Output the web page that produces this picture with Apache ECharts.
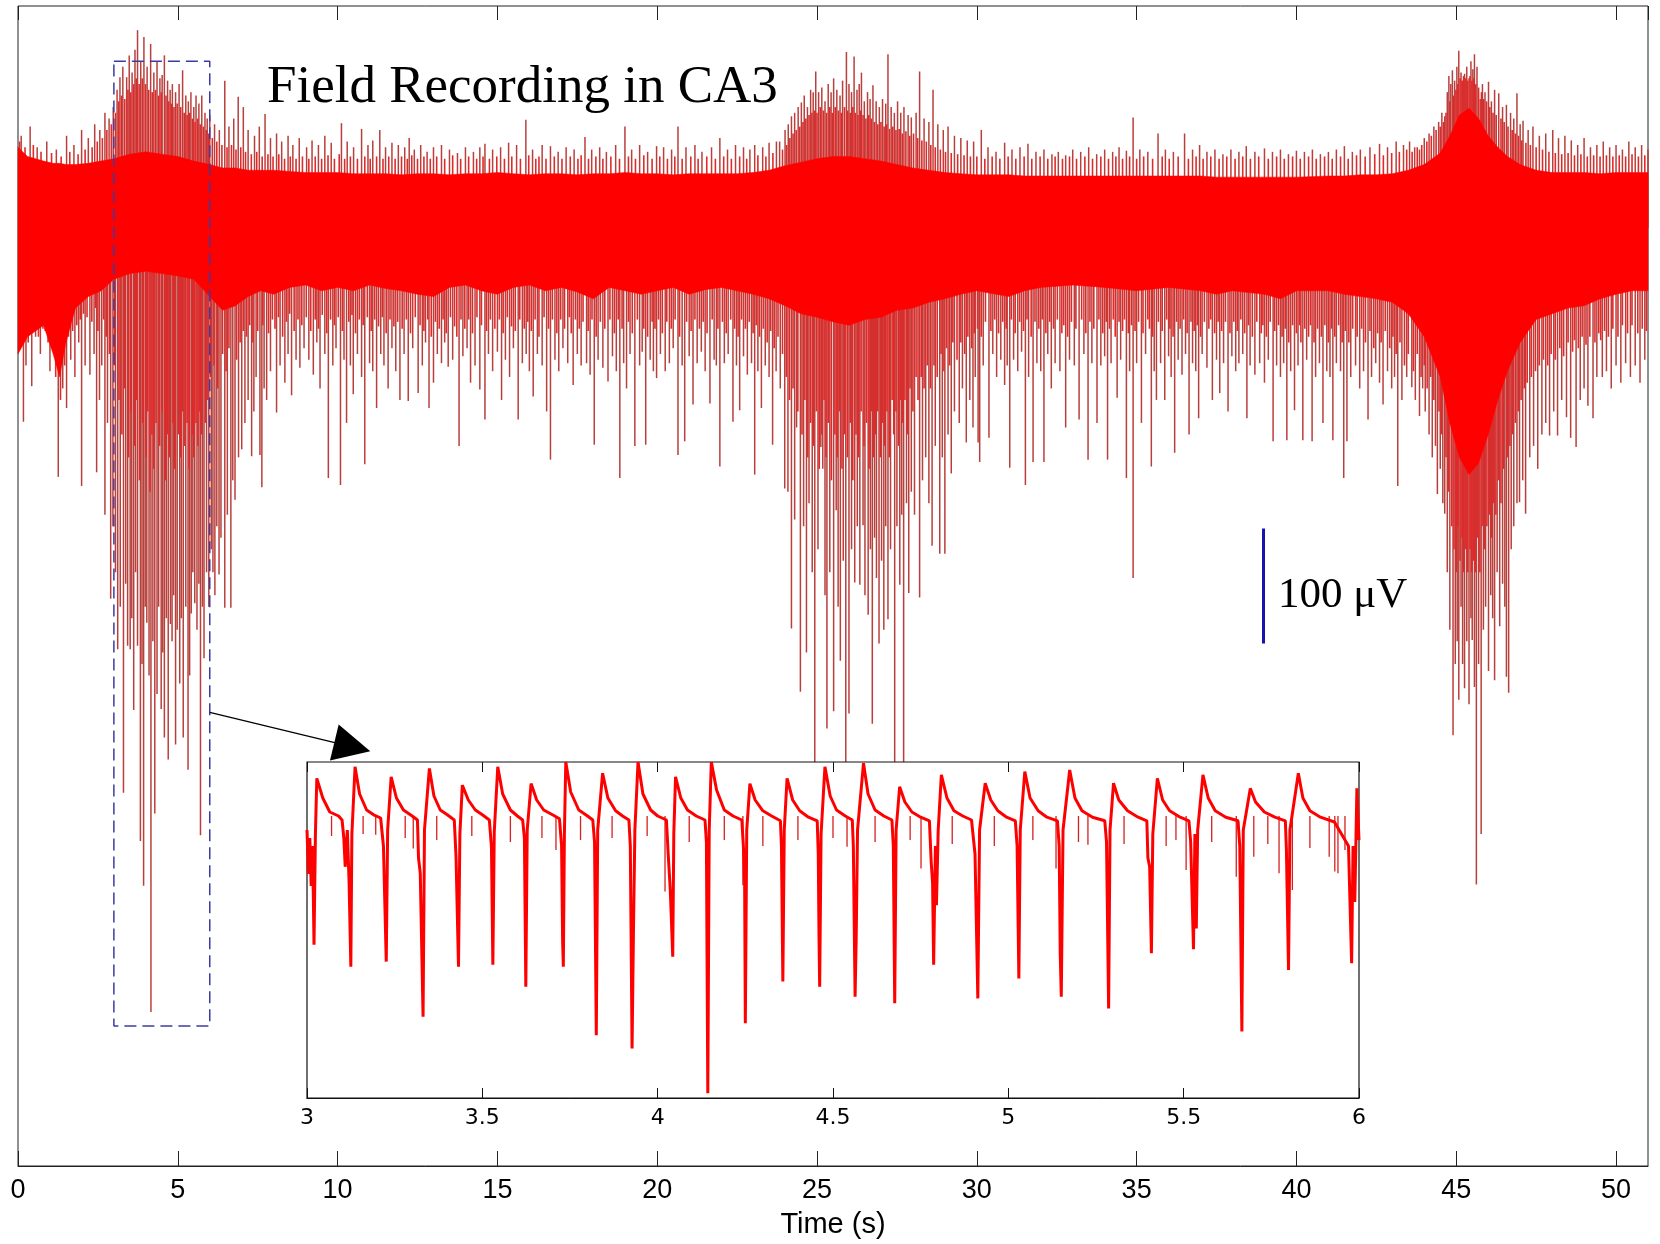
<!DOCTYPE html>
<html>
<head>
<meta charset="utf-8">
<title>Field Recording in CA3</title>
<script src="https://cdn.jsdelivr.net/npm/echarts@6/dist/echarts.min.js"></script>
<style>
  html, body { margin: 0; padding: 0; background: #fff; }
  #chart { width: 1660px; height: 1244px; }
</style>
</head>
<body>
<div id="chart"></div>
<script>
// dense band of the trace: [time s, top µV, bottom µV]
const band = [
  [0,70,-110],[0.3,62,-95],[0.8,58,-85],[1.1,56,-110],[1.3,56,-130],[1.5,55,-100],[1.8,55,-70],[2.2,56,-60],
  [2.6,58,-55],[3.0,60,-45],[3.5,64,-40],[4.0,66,-38],[4.5,64,-40],[5.0,62,-42],[5.5,58,-45],[6.0,55,-60],
  [6.4,52,-72],[6.8,52,-68],[7.2,50,-60],[7.6,50,-55],[8.0,50,-58],[8.5,49,-52],[9.0,48,-50],[9.5,48,-55],
  [10.0,48,-52],[10.5,47,-55],[11.0,47,-50],[11.5,47,-53],[12.0,46,-55],[12.5,47,-58],[13.0,47,-60],[13.5,46,-52],
  [14.0,47,-50],[14.5,47,-55],[15.0,48,-58],[15.5,47,-52],[16.0,46,-50],[16.5,47,-55],[17.0,47,-52],[17.5,46,-56],
  [18.0,47,-62],[18.5,47,-52],[19.0,48,-55],[19.5,47,-58],[20.0,47,-55],[20.5,46,-52],[21.0,47,-58],[21.5,47,-54],
  [22.0,47,-52],[22.5,47,-55],[23.0,48,-58],[23.5,50,-62],[24.0,54,-68],[24.5,57,-75],[25.0,60,-78],[25.5,62,-82],
  [26.0,62,-85],[26.5,60,-80],[27.0,58,-78],[27.5,55,-72],[28.0,52,-70],[28.5,50,-65],[29.0,48,-62],[29.5,47,-58],
  [30.0,46,-55],[31.0,46,-60],[31.5,45,-55],[32.0,45,-52],[33.0,45,-50],[34.0,45,-52],[35.0,45,-55],[36.0,45,-52],
  [37.0,45,-55],[37.5,44,-58],[38.0,44,-55],[39.0,44,-58],[39.5,44,-62],[40.0,44,-55],[41.0,45,-55],[41.5,45,-58],
  [42.0,46,-60],[42.5,46,-62],[43.0,47,-65],[43.5,50,-75],[44.0,55,-95],[44.5,65,-130],[44.8,80,-170],[45.1,98,-200],
  [45.4,104,-215],[45.7,95,-205],[46.0,80,-180],[46.3,70,-150],[46.6,62,-125],[47.0,55,-100],[47.5,50,-80],[48.0,48,-75],
  [48.5,48,-70],[49.0,48,-68],[49.5,47,-62],[50.0,48,-58],[50.5,48,-55],[51.0,48,-55]
];

// long downward spikes [time s, tip µV]
const downSpikes = [
  [0.06,-98],[0.17,-169],[0.25,-120],[0.43,-138],[0.55,-95],[0.7,-110],[0.85,-90],[1.0,-125],[1.1,-105],[1.26,-217],
  [1.4,-140],[1.52,-157],[1.65,-115],[1.78,-130],[1.9,-100],[1.99,-225],[2.1,-120],[2.25,-128],[2.38,-110],[2.46,-213],
  [2.55,-150],[2.62,-120],[2.72,-250],[2.8,-170],[2.9,-323],[2.97,-260],
  [3.05,-300],[3.12,-367],[3.2,-330],[3.3,-492],[3.37,-310],[3.43,-364],[3.51,-367],[3.56,-340],[3.62,-420],[3.68,-300],
  [3.74,-364],[3.83,-534],[3.88,-380],[3.93,-573],[3.98,-330],[4.03,-344],[4.1,-390],[4.16,-683],[4.22,-360],[4.28,-510],
  [4.35,-406],[4.4,-330],[4.48,-419],[4.53,-370],[4.58,-444],[4.64,-340],[4.7,-463],[4.77,-345],[4.82,-360],[4.87,-320],
  [4.93,-450],[4.98,-350],[5.06,-397],[5.11,-340],[5.17,-444],[5.25,-330],[5.32,-472],[5.37,-390],[5.42,-336],[5.47,-300],
  [5.53,-327],[5.6,-350],[5.66,-310],[5.71,-529],[5.77,-330],[5.82,-375],[5.9,-300],[5.97,-330],
  [6.05,-280],[6.1,-300],[6.16,-320],[6.22,-260],[6.29,-302],[6.35,-270],[6.47,-331],[6.55,-250],[6.66,-331],[6.72,-220],
  [6.79,-237],[6.9,-200],[7.0,-193],[7.1,-170],[7.2,-150],[7.31,-199],[7.38,-160],[7.45,-130],[7.57,-198],[7.63,-226],
  [7.7,-140],[7.78,-150],[7.9,-125],[8.09,-161],[8.2,-120],[8.35,-135],[8.45,-110],[8.56,-146],[8.7,-115],[8.82,-122],
  [8.95,-105],[9.1,-115],[9.24,-128],[9.35,-100],[9.45,-140],[9.6,-110],[9.71,-218],[9.85,-120],[9.95,-105],[10.09,-224],
  [10.2,-115],[10.28,-170],[10.4,-120],[10.49,-145],[10.62,-110],[10.75,-130],[10.85,-206],[11.0,-118],[11.1,-125],[11.22,-157],
  [11.35,-110],[11.45,-120],[11.58,-140],[11.7,-105],[11.82,-125],[11.95,-150],
  [12.08,-110],[12.21,-151],[12.35,-105],[12.52,-144],[12.65,-120],[12.75,-100],[12.86,-157],[13.0,-135],[13.12,-110],[13.25,-118],
  [13.35,-100],[13.46,-121],[13.6,-115],[13.8,-190],[13.92,-112],[14.05,-105],[14.16,-135],[14.3,-120],[14.45,-141],[14.61,-167],
  [14.72,-110],[14.85,-125],[15.0,-108],[15.13,-150],[15.25,-115],[15.38,-130],[15.5,-105],[15.65,-167],[15.78,-118],[15.9,-110],
  [16.0,-125],[16.12,-147],[16.25,-110],[16.4,-120],[16.54,-160],[16.66,-202],[16.8,-115],[16.92,-125],[17.05,-105],[17.2,-118],
  [17.37,-137],[17.5,-110],[17.62,-120],[17.79,-118],[17.9,-128],[18.03,-189],[18.15,-115],[18.3,-122],[18.46,-134],[18.6,-112],
  [18.72,-125],[18.83,-218],[18.95,-118],[19.04,-140],[19.15,-110],[19.3,-190],[19.45,-120],[19.53,-108],[19.64,-189],[19.78,-115],
  [19.88,-125],[19.98,-131],[20.1,-110],[20.25,-125],[20.38,-118],[20.5,-105],[20.65,-198],[20.78,-120],[20.86,-186],[21.0,-112],
  [21.12,-154],[21.25,-118],[21.38,-108],[21.5,-125],[21.65,-153],[21.78,-115],[21.85,-120],[21.96,-208],[22.1,-118],[22.22,-110],
  [22.37,-169],[22.48,-120],[22.58,-159],[22.7,-112],[22.82,-128],[22.95,-118],[23.05,-215],[23.15,-125],[23.26,-157],[23.38,-120],
  [23.5,-130],[23.61,-189],[23.72,-125],[23.85,-140],[23.99,-227],
  [24.09,-230],[24.2,-349],[24.3,-254],[24.36,-174],[24.48,-404],[24.58,-260],[24.67,-370],[24.75,-240],[24.85,-300],[24.93,-500],
  [25.03,-280],[25.12,-191],[25.18,-210],[25.25,-320],[25.31,-436],[25.4,-300],[25.52,-421],[25.6,-246],[25.66,-330],[25.73,-377],
  [25.82,-290],[25.9,-500],[26.0,-423],[26.08,-280],[26.18,-309],[26.26,-260],[26.34,-311],[26.44,-259],[26.5,-320],[26.6,-337],
  [26.67,-280],[26.73,-432],[26.8,-270],[26.86,-305],[26.94,-362],[27.02,-290],[27.09,-350],[27.15,-260],[27.22,-341],[27.3,-280],
  [27.43,-500],[27.5,-260],[27.59,-311],[27.65,-250],[27.71,-500],[27.8,-240],[27.87,-318],[27.95,-230],[28.05,-250],[28.21,-322],
  [28.3,-220],[28.4,-200],[28.5,-240],[28.6,-277],[28.7,-190],[28.84,-284],[28.92,-200],[29.0,-284],[29.1,-180],[29.2,-214],
  [29.3,-160],[29.45,-170],[29.55,-140],[29.67,-187],[29.78,-150],[29.88,-174],[29.95,-130],
  [30.04,-187],[30.09,-204],[30.2,-120],[30.38,-183],[30.5,-110],[30.62,-130],[30.75,-115],[30.87,-137],[30.95,-120],[31.03,-209],
  [31.15,-115],[31.28,-125],[31.4,-108],[31.52,-224],[31.62,-130],[31.76,-204],[31.88,-118],[32.0,-125],[32.1,-204],[32.22,-110],
  [32.33,-140],[32.45,-118],[32.6,-125],[32.78,-174],[32.9,-115],[33.05,-120],[33.2,-167],[33.35,-110],[33.48,-202],[33.6,-118],
  [33.76,-170],[33.88,-120],[34.0,-112],[34.09,-202],[34.2,-118],[34.39,-148],[34.5,-115],[34.68,-218],[34.78,-125],[34.89,-305],
  [35.0,-118],[35.15,-170],[35.28,-110],[35.46,-208],[35.55,-125],[35.62,-150],[35.75,-118],[35.88,-150],[36.0,-112],[36.08,-130],
  [36.19,-196],[36.3,-115],[36.42,-128],[36.53,-110],[36.64,-180],[36.75,-118],[36.85,-125],[36.94,-166],[37.05,-110],[37.2,-122],
  [37.37,-150],[37.5,-115],[37.6,-144],[37.72,-118],[37.86,-160],[37.98,-112],[38.1,-125],[38.2,-118],[38.32,-110],[38.45,-166],
  [38.55,-120],[38.7,-128],[38.85,-118],[39.0,-135],[39.12,-115],[39.27,-186],[39.38,-120],[39.5,-130],[39.6,-118],[39.7,-185],
  [39.82,-125],[39.94,-159],[40.05,-120],[40.2,-185],[40.32,-115],[40.49,-186],[40.6,-130],[40.72,-118],[40.83,-170],[40.95,-125],
  [41.05,-130],[41.14,-185],[41.25,-118],[41.38,-125],[41.48,-218],[41.58,-186],[41.7,-130],[41.85,-120],[41.98,-140],[42.1,-125],
  [42.24,-167],[42.35,-130],[42.48,-118],[42.6,-135],[42.71,-154],[42.85,-125],[42.98,-140],[43.07,-130],[43.17,-225],
  [43.3,-150],[43.45,-130],[43.61,-139],[43.72,-150],[43.85,-164],[43.95,-140],[44.03,-160],[44.15,-180],[44.25,-200],[44.35,-190],
  [44.41,-232],[44.5,-210],[44.58,-240],[44.64,-249],[44.72,-300],[44.8,-350],[44.9,-442],[44.97,-380],[45.03,-360],[45.08,-411],
  [45.15,-330],[45.2,-380],[45.26,-401],[45.33,-360],[45.4,-415],[45.46,-340],[45.5,-359],[45.57,-400],[45.63,-572],[45.7,-380],
  [45.78,-528],[45.85,-350],[45.92,-330],[46.01,-386],[46.08,-320],[46.14,-340],[46.2,-394],[46.28,-300],[46.36,-347],[46.45,-310],
  [46.52,-330],[46.57,-391],[46.64,-405],[46.72,-280],[46.8,-260],[46.9,-240],[46.98,-239],[47.08,-220],[47.17,-249],[47.3,-200],
  [47.42,-190],[47.55,-210],[47.68,-180],[47.8,-170],[47.92,-181],[48.05,-160],[48.17,-181],[48.3,-150],[48.45,-165],[48.58,-183],
  [48.75,-191],[48.88,-150],[49.0,-140],[49.12,-155],[49.28,-166],[49.4,-130],[49.57,-130],[49.7,-125],[49.85,-140],[50.0,-120],
  [50.15,-135],[50.3,-118],[50.45,-130],[50.6,-120],[50.75,-135],[50.9,-115]
];

// long upward spikes [time s, tip µV]
const upSpikes = [
  [0.1,80],[0.38,88],[0.6,70],[0.9,75],[1.2,68],[1.52,80],[1.75,72],[1.99,85],[2.2,78],[2.4,90],[2.56,85],[2.72,100],[2.85,95],[2.98,105],
  [3.1,120],[3.19,131],[3.28,140],[3.4,131],[3.48,150],[3.57,135],[3.66,155],[3.74,172],[3.84,145],[3.94,166],[4.04,140],[4.15,160],
  [4.25,135],[4.35,145],[4.44,130],[4.51,133],[4.58,150],[4.68,128],[4.76,120],[4.83,125],[4.93,118],[5.04,125],[5.15,137],[5.25,115],
  [5.33,110],[5.41,118],[5.5,105],[5.57,115],[5.66,108],[5.75,115],[5.85,100],[5.92,95],[6.0,98],
  [6.15,90],[6.3,85],[6.47,128],[6.6,88],[6.75,95],[6.89,114],[7.05,105],[7.2,85],[7.4,80],[7.55,88],[7.73,99],[7.9,78],[8.09,82],
  [8.25,75],[8.45,80],[8.6,72],[8.8,78],[9.03,70],[9.2,76],[9.4,72],[9.6,80],[9.8,74],[10.12,91],[10.3,75],[10.5,70],[10.75,86],
  [10.95,72],[11.1,76],[11.32,85],[11.5,70],[11.7,74],[11.9,72],
  [12.1,70],[12.24,78],[12.4,68],[12.6,72],[12.8,66],[13.0,70],[13.25,72],[13.5,68],[13.75,65],[14.0,70],[14.25,66],[14.45,70],
  [14.61,73],[14.85,68],[15.1,70],[15.35,74],[15.6,72],[15.89,94],[16.1,68],[16.4,72],[16.66,71],[16.9,66],[17.15,70],[17.4,68],
  [17.74,79],[17.95,68],[18.2,70],[18.41,66],[18.7,72],[18.99,88],[19.2,68],[19.45,72],[19.7,66],[19.98,71],[20.2,70],[20.45,68],
  [20.65,88],[20.9,70],[21.18,72],[21.4,66],[21.7,70],[21.96,78],[22.2,68],[22.45,72],[22.7,70],[22.9,68],[23.05,72],[23.3,70],
  [23.5,74],[23.73,75],[23.83,75],[24.0,85],
  [24.1,90],[24.2,97],[24.3,100],[24.41,105],[24.51,109],[24.6,115],[24.7,105],[24.8,120],[24.88,118],[24.96,136],[25.05,118],
  [25.15,122],[25.25,110],[25.35,125],[25.44,118],[25.52,130],[25.62,120],[25.72,115],[25.8,128],[25.92,153],[26.0,125],[26.08,118],
  [26.16,149],[26.25,120],[26.32,125],[26.39,135],[26.48,110],[26.58,118],[26.66,112],[26.75,124],[26.85,110],[26.95,105],[27.05,112],
  [27.15,108],[27.22,151],[27.32,105],[27.42,100],[27.52,110],[27.62,100],[27.72,105],[27.85,98],[27.95,96],[28.1,100],[28.21,136],
  [28.35,95],[28.5,92],[28.63,120],[28.78,90],[28.95,85],[29.1,88],[29.3,80],[29.5,78],[29.7,76],[29.9,75],
  [30.14,85],[30.35,70],[30.6,66],[30.87,74],[31.1,68],[31.35,70],[31.6,73],[31.85,66],[32.1,68],[32.35,64],[32.55,66],[32.78,63],
  [33.0,68],[33.25,66],[33.5,70],[33.75,64],[34.0,68],[34.25,66],[34.45,70],[34.68,67],[34.89,96],[35.1,68],[35.35,66],[35.67,82],
  [35.9,68],[36.15,66],[36.5,82],[36.75,68],[36.97,72],[37.2,66],[37.45,68],[37.7,64],[37.95,68],[38.2,66],[38.43,71],[38.7,66],
  [39.0,69],[39.25,66],[39.5,68],[39.75,64],[40.0,67],[40.25,66],[40.5,68],[40.75,64],[41.0,66],[41.25,68],[41.5,71],[41.75,66],
  [42.0,68],[42.3,70],[42.6,73],[42.85,70],[43.12,75],[43.35,72],
  [43.54,75],[43.7,70],[43.85,68],[44.0,78],[44.15,82],[44.3,88],[44.45,92],[44.55,100],[44.64,97],[44.72,118],[44.77,132],
  [44.83,125],[44.88,137],[44.95,128],[45.02,140],[45.08,154],[45.15,135],[45.2,128],[45.26,134],[45.33,140],[45.4,130],[45.46,145],
  [45.52,138],[45.57,151],[45.65,140],[45.75,112],[45.82,125],[45.9,118],[46.01,127],[46.1,110],[46.2,120],[46.33,117],[46.45,105],
  [46.57,107],[46.7,100],[46.8,95],[46.9,117],[47.0,90],[47.09,93],[47.25,85],[47.4,88],[47.6,80],[47.8,82],[48.02,85],[48.2,78],
  [48.4,80],[48.6,76],[48.8,72],[49.0,78],[49.2,70],[49.4,72],[49.6,75],[49.8,70],[50.0,72],[50.2,68],[50.4,75],[50.6,70],
  [50.8,72],[51.0,68]
];

// short spikes making the ragged lower fringe of the band [time s, tip µV]
const fringeDown = [
  [0.12,-90],[0.32,-100],[0.5,-85],[0.64,-95],[0.78,-88],[0.94,-100],[1.05,-92],[1.18,-130],[1.33,-150],[1.46,-120],
  [1.58,-95],[1.71,-90],[1.84,-85],[1.95,-80],[2.05,-75],[2.16,-78],[2.31,-82],[2.43,-70],[2.5,-90],[2.68,-80],
  [2.76,-95],[2.86,-110],[3.02,-120],[3.16,-150],[3.25,-180],[3.34,-140],[3.46,-200],[3.53,-160],[3.65,-190],[3.71,-150],
  [3.8,-220],[3.9,-170],[4.0,-200],[4.06,-160],[4.13,-230],[4.19,-180],[4.25,-210],[4.32,-170],[4.43,-190],[4.51,-160],
  [4.61,-220],[4.67,-180],[4.74,-200],[4.85,-170],[4.9,-210],[5.02,-180],[5.09,-200],[5.14,-160],[5.22,-190],[5.29,-170],
  [5.35,-210],[5.45,-180],[5.5,-200],[5.57,-170],[5.63,-190],[5.69,-160],[5.74,-180],[5.86,-170],[5.94,-150],
  [6.02,-130],[6.13,-120],[6.25,-140],[6.4,-110],[6.51,-125],[6.6,-105],[6.84,-115],[6.95,-100],[7.05,-90],[7.15,-95],
  [7.25,-85],[7.35,-100],[7.5,-90],[7.66,-85],[7.84,-92],[7.96,-80],[8.04,-88],[8.15,-78],[8.28,-95],[8.4,-82],
  [8.5,-75],[8.64,-90],[8.76,-80],[8.88,-85],[9.02,-78],[9.16,-90],[9.3,-80],[9.4,-88],[9.52,-76],[9.66,-92],
  [9.78,-80],[9.9,-85],[10.02,-78],[10.15,-90],[10.35,-82],[10.45,-76],[10.56,-92],[10.68,-80],[10.8,-85],[10.93,-78],
  [11.05,-90],[11.16,-80],[11.28,-86],[11.4,-78],[11.52,-92],[11.64,-80],[11.76,-86],[11.88,-82],
  [12.02,-88],[12.15,-80],[12.28,-92],[12.43,-78],[12.58,-85],[12.7,-90],[12.82,-80],[12.93,-95],[13.06,-82],[13.18,-88],
  [13.3,-80],[13.4,-92],[13.53,-78],[13.66,-86],[13.73,-95],[13.86,-80],[13.98,-88],[14.1,-80],[14.22,-92],[14.36,-78],
  [14.5,-85],[14.66,-90],[14.78,-80],[14.92,-88],[15.06,-80],[15.18,-92],[15.31,-78],[15.44,-86],[15.56,-90],[15.7,-80],
  [15.84,-88],[15.95,-82],[16.06,-90],[16.18,-80],[16.3,-95],[16.46,-78],[16.6,-88],[16.72,-80],[16.86,-92],[16.98,-80],
  [17.1,-88],[17.25,-78],[17.31,-92],[17.44,-80],[17.56,-88],[17.68,-82],[17.84,-90],[17.96,-80],[18.09,-95],[18.22,-82],
  [18.36,-88],[18.52,-80],[18.66,-92],[18.78,-80],[18.9,-88],[19.1,-82],[19.22,-92],[19.38,-80],[19.58,-88],[19.7,-95],
  [19.84,-82],[19.93,-88],[20.04,-80],[20.16,-92],[20.3,-82],[20.44,-88],[20.56,-80],[20.7,-95],[20.92,-82],[21.06,-90],
  [21.18,-80],[21.32,-88],[21.44,-82],[21.56,-92],[21.72,-80],[21.9,-88],[22.04,-82],[22.16,-92],[22.3,-80],[22.42,-88],
  [22.53,-95],[22.64,-80],[22.76,-88],[22.88,-82],[23.0,-92],[23.1,-85],[23.2,-95],[23.32,-88],[23.44,-100],[23.55,-90],
  [23.66,-105],[23.78,-95],[23.92,-110],
  [24.04,-130],[24.14,-150],[24.25,-140],[24.4,-160],[24.53,-180],[24.62,-150],[24.71,-200],[24.8,-170],[24.89,-190],[24.98,-160],
  [25.07,-210],[25.15,-180],[25.22,-150],[25.28,-200],[25.35,-170],[25.45,-220],[25.56,-180],[25.63,-200],[25.7,-160],[25.78,-210],
  [25.86,-180],[25.95,-200],[26.04,-170],[26.12,-220],[26.22,-180],[26.3,-200],[26.38,-160],[26.47,-190],[26.55,-170],[26.63,-210],
  [26.7,-160],[26.77,-200],[26.83,-180],[26.9,-160],[26.98,-200],[27.05,-170],[27.12,-190],[27.19,-160],[27.26,-200],[27.35,-150],
  [27.4,-180],[27.47,-160],[27.55,-190],[27.62,-150],[27.68,-170],[27.75,-150],[27.83,-180],[27.91,-140],[28.0,-160],[28.1,-130],
  [28.16,-150],[28.26,-130],[28.35,-140],[28.45,-120],[28.55,-140],[28.66,-120],[28.76,-130],[28.88,-110],[28.97,-125],[29.05,-105],
  [29.15,-120],[29.25,-100],[29.38,-115],[29.5,-100],[29.62,-110],[29.72,-95],[29.84,-105],[29.92,-92],
  [30.02,-88],[30.14,-95],[30.27,-82],[30.44,-90],[30.56,-80],[30.68,-92],[30.81,-82],[30.92,-88],[31.08,-80],[31.2,-92],
  [31.34,-82],[31.46,-90],[31.57,-80],[31.7,-95],[31.82,-82],[31.94,-88],[32.05,-80],[32.16,-92],[32.28,-82],[32.4,-88],
  [32.52,-80],[32.66,-92],[32.72,-85],[32.84,-95],[32.96,-82],[33.1,-88],[33.28,-80],[33.41,-92],[33.54,-82],[33.66,-88],
  [33.82,-80],[33.94,-92],[34.05,-82],[34.15,-88],[34.27,-80],[34.33,-95],[34.45,-82],[34.56,-90],[34.62,-80],[34.74,-92],
  [34.84,-85],[34.95,-90],[35.06,-82],[35.2,-92],[35.35,-80],[35.4,-88],[35.5,-95],[35.68,-82],[35.8,-90],[35.94,-80],
  [36.04,-88],[36.14,-95],[36.25,-82],[36.36,-88],[36.47,-80],[36.58,-92],[36.7,-82],[36.8,-90],[36.9,-85],[37.0,-95],
  [37.12,-82],[37.26,-88],[37.32,-80],[37.44,-92],[37.55,-82],[37.66,-90],[37.78,-82],[37.92,-92],[38.04,-82],[38.15,-90],
  [38.26,-80],[38.38,-92],[38.5,-85],[38.62,-95],[38.76,-82],[38.9,-92],[38.95,-85],[39.06,-95],[39.18,-82],[39.32,-90],
  [39.44,-85],[39.55,-95],[39.65,-88],[39.76,-100],[39.88,-85],[40.0,-92],[40.1,-85],[40.14,-100],[40.26,-88],[40.38,-95],
  [40.44,-85],[40.55,-100],[40.66,-88],[40.78,-95],[40.89,-85],[41.0,-100],[41.1,-88],[41.2,-95],[41.32,-85],[41.43,-100],
  [41.53,-90],[41.64,-100],[41.76,-88],[41.9,-95],[42.04,-88],[42.16,-100],[42.3,-90],[42.42,-105],[42.54,-92],[42.65,-100],
  [42.78,-90],[42.92,-105],[43.02,-95],[43.12,-110],[43.24,-100],
  [43.38,-120],[43.5,-110],[43.66,-125],[43.78,-110],[43.9,-130],[44.0,-120],[44.09,-140],[44.2,-130],[44.3,-150],[44.46,-160],
  [44.54,-180],[44.68,-200],[44.76,-230],[44.86,-260],[44.93,-280],[45.0,-300],[45.05,-260],[45.12,-290],[45.18,-270],[45.23,-300],
  [45.3,-280],[45.36,-300],[45.43,-280],[45.48,-300],[45.54,-290],[45.6,-300],[45.67,-270],[45.74,-300],[45.81,-260],[45.88,-280],
  [45.96,-260],[46.04,-250],[46.11,-270],[46.17,-240],[46.24,-250],[46.32,-220],[46.4,-240],[46.48,-210],[46.6,-200],[46.68,-190],
  [46.76,-180],[46.85,-170],[46.94,-160],[47.03,-150],[47.13,-140],[47.22,-135],[47.35,-130],[47.48,-125],[47.6,-120],[47.73,-115],
  [47.86,-120],[47.97,-110],[48.1,-115],[48.24,-105],[48.36,-112],[48.5,-100],[48.64,-108],[48.7,-98],[48.82,-105],[48.94,-95],
  [49.06,-102],[49.18,-95],[49.34,-100],[49.46,-92],[49.52,-98],[49.64,-90],[49.76,-95],[49.9,-88],[50.06,-95],[50.2,-85],
  [50.36,-92],[50.5,-85],[50.68,-92],[50.82,-88],[50.95,-90]
];

// short spikes making the ragged upper fringe of the band [time s, tip µV]
const fringeUp = [
  [0.05,75],[0.22,70],[0.48,72],[0.72,66],[1.05,65],[1.35,62],[1.62,66],[1.88,64],[2.1,68],[2.32,70],[2.48,75],[2.64,78],
  [2.78,85],[2.92,90],[3.05,100],[3.15,110],[3.24,115],[3.34,112],[3.44,120],[3.53,118],[3.62,125],[3.7,130],[3.79,125],
  [3.89,130],[3.99,125],[4.09,120],[4.2,118],[4.3,120],[4.4,115],[4.48,118],[4.63,115],[4.72,110],[4.8,108],[4.88,105],
  [4.98,108],[5.09,105],[5.2,100],[5.29,98],[5.37,100],[5.46,95],[5.54,92],[5.62,95],[5.7,90],[5.8,88],[5.89,85],[5.97,82],
  [6.08,78],[6.22,75],[6.38,72],[6.54,70],[6.68,72],[6.82,68],[6.97,70],[7.12,66],[7.3,64],[7.47,66],[7.64,62],[7.82,64],
  [7.98,62],[8.16,64],[8.34,60],[8.52,62],[8.7,60],[8.9,62],[9.1,60],[9.3,62],[9.5,60],[9.7,63],[9.9,60],[10.05,64],
  [10.22,60],[10.4,62],[10.62,60],[10.85,62],[11.02,60],[11.22,62],[11.42,60],[11.6,62],[11.8,60],[12.0,62],[12.18,60],
  [12.32,63],[12.5,60],[12.7,62],[12.9,60],[13.1,62],[13.35,60],[13.6,63],[13.85,60],[14.1,62],[14.35,60],[14.55,62],
  [14.75,60],[14.98,62],[15.22,60],[15.45,62],[15.72,60],[15.98,63],[16.2,60],[16.3,62],[16.52,60],[16.78,62],[17.02,60],
  [17.28,62],[17.52,60],[17.62,63],[17.85,60],[18.08,62],[18.3,60],[18.55,62],[18.82,60],[19.1,62],[19.32,60],[19.58,63],
  [19.84,60],[20.08,62],[20.32,60],[20.55,62],[20.78,60],[21.05,62],[21.28,60],[21.55,62],[21.82,60],[22.08,62],[22.32,60],
  [22.58,62],[22.8,60],[23.15,63],[23.4,62],[23.62,65],[23.92,68],[24.05,72],[24.15,78],[24.25,82],[24.35,85],[24.46,88],
  [24.56,92],[24.65,95],[24.75,98],[24.84,100],[24.92,102],[25.0,100],[25.1,105],[25.2,102],[25.3,100],[25.4,105],[25.48,100],
  [25.57,105],[25.67,102],[25.76,100],[25.86,105],[25.96,102],[26.04,100],[26.12,105],[26.2,100],[26.28,98],[26.36,102],
  [26.44,98],[26.53,95],[26.62,98],[26.7,95],[26.8,92],[26.9,90],[27.0,92],[27.1,88],[27.18,90],[27.27,86],[27.37,88],
  [27.47,85],[27.57,86],[27.67,82],[27.78,84],[27.9,80],[28.02,82],[28.15,78],[28.28,76],[28.42,75],[28.56,72],[28.7,70],
  [28.86,68],[29.02,66],[29.2,65],[29.4,64],[29.6,63],[29.8,62],[30.0,62],[30.25,60],[30.48,62],[30.72,60],[30.98,62],
  [31.22,60],[31.48,62],[31.72,60],[31.98,62],[32.22,60],[32.45,62],[32.68,60],[32.9,62],[33.12,60],[33.38,62],[33.62,60],
  [33.88,62],[34.12,60],[34.35,62],[34.56,60],[34.78,62],[35.0,60],[35.22,62],[35.5,60],[35.8,62],[36.02,60],[36.3,62],
  [36.62,60],[36.86,62],[37.08,60],[37.32,62],[37.58,60],[37.82,62],[38.08,60],[38.32,62],[38.56,60],[38.82,62],[39.12,60],
  [39.38,62],[39.62,60],[39.88,62],[40.12,60],[40.38,62],[40.62,60],[40.88,62],[41.12,60],[41.38,62],[41.62,60],[41.88,63],
  [42.15,62],[42.45,64],[42.72,63],[42.98,65],[43.22,66],[43.45,68],[43.62,66],[43.78,70],[43.92,72],[44.08,75],[44.22,80],
  [44.37,85],[44.5,88],[44.6,92],[44.68,100],[44.8,110],[44.92,115],[44.99,120],[45.05,125],[45.12,130],[45.18,128],
  [45.23,132],[45.3,130],[45.36,128],[45.43,132],[45.49,128],[45.55,130],[45.61,125],[45.7,122],[45.79,118],[45.86,112],
  [45.95,110],[46.05,105],[46.15,100],[46.25,98],[46.4,95],[46.5,92],[46.62,88],[46.75,85],[46.85,82],[46.95,80],[47.05,76],
  [47.18,74],[47.32,72],[47.5,70],[47.7,68],[47.9,66],[48.1,65],[48.3,64],[48.5,65],[48.7,63],[48.9,64],[49.1,62],[49.3,63],
  [49.5,62],[49.7,63],[49.9,62],[50.1,63],[50.3,62],[50.5,64],[50.7,62],[50.9,63]
];

// zoomed trace 3-6 s shown in the inset [time s, µV]
const insetTrace = [
  [3.000,-20],[3.004,-130],[3.008,-40],[3.012,-160],[3.016,-60],[3.020,-307],[3.024,-30],[3.028,109],[3.045,60],[3.065,25],[3.090,15],[3.100,5],
  [3.105,-40],[3.109,-112],[3.115,-20],[3.120,-150],[3.125,-362],[3.128,-30],[3.137,138],[3.150,70],[3.170,30],[3.190,18],[3.210,10],
  [3.218,-60],[3.226,-349],[3.230,-20],[3.240,113],[3.255,60],[3.275,30],[3.300,15],[3.315,5],
  [3.318,-90],[3.323,-128],[3.331,-487],[3.335,-20],[3.349,134],[3.362,65],[3.380,30],[3.400,18],[3.420,5],
  [3.425,-87],[3.432,-362],[3.436,-30],[3.443,92],[3.460,55],[3.480,30],[3.500,18],[3.520,5],
  [3.526,-62],[3.530,-357],[3.534,-25],[3.544,138],[3.558,70],[3.580,30],[3.600,15],[3.615,5],
  [3.620,-40],[3.624,-412],[3.628,-20],[3.639,96],[3.655,55],[3.675,30],[3.700,18],[3.720,8],
  [3.726,-60],[3.729,-300],[3.731,-362],[3.734,-30],[3.738,150],[3.752,75],[3.775,30],[3.800,15],[3.815,5],
  [3.820,-50],[3.825,-533],[3.829,-20],[3.843,122],[3.858,60],[3.880,28],[3.900,15],[3.918,5],
  [3.922,-60],[3.927,-566],[3.931,-270],[3.935,-20],[3.944,150],[3.958,70],[3.980,30],[4.000,15],[4.025,5],
  [4.030,-80],[4.036,-170],[4.043,-337],[4.046,-30],[4.051,113],[4.066,60],[4.085,30],[4.110,15],[4.135,5],
  [4.139,-50],[4.143,-678],[4.147,-20],[4.153,150],[4.168,80],[4.190,30],[4.215,15],[4.240,5],
  [4.245,-70],[4.248,-150],[4.250,-503],[4.254,-20],[4.263,96],[4.278,55],[4.300,28],[4.325,15],[4.350,3],
  [4.353,-60],[4.357,-399],[4.361,-20],[4.369,109],[4.385,55],[4.405,28],[4.430,12],[4.455,3],
  [4.458,-80],[4.460,-280],[4.462,-412],[4.466,-30],[4.477,138],[4.492,65],[4.510,30],[4.535,15],[4.555,5],
  [4.558,-60],[4.563,-437],[4.566,-300],[4.570,-20],[4.587,147],[4.600,70],[4.620,30],[4.645,15],[4.668,5],
  [4.672,-60],[4.676,-453],[4.680,-20],[4.690,88],[4.705,50],[4.725,25],[4.750,12],[4.775,3],
  [4.780,-100],[4.784,-153],[4.787,-357],[4.792,-60],[4.795,-208],[4.800,-20],[4.809,118],[4.825,60],[4.845,28],[4.870,15],[4.895,5],
  [4.905,-80],[4.913,-441],[4.918,-20],[4.934,97],[4.950,55],[4.970,28],[4.995,12],[5.020,3],
  [5.025,-60],[5.030,-391],[5.034,-20],[5.047,126],[5.062,60],[5.085,28],[5.110,12],[5.140,3],
  [5.145,-60],[5.148,-330],[5.151,-437],[5.156,-20],[5.175,130],[5.190,60],[5.210,28],[5.240,12],[5.275,3],
  [5.280,-50],[5.286,-466],[5.290,-20],[5.300,97],[5.315,55],[5.340,28],[5.370,12],[5.395,3],
  [5.398,-90],[5.403,-112],[5.408,-328],[5.412,-30],[5.425,109],[5.440,55],[5.460,28],[5.490,12],[5.515,3],
  [5.520,-50],[5.528,-318],[5.532,-30],[5.536,-266],[5.540,-20],[5.555,118],[5.570,60],[5.590,28],[5.620,12],[5.655,3],
  [5.660,-60],[5.666,-524],[5.670,-20],[5.690,84],[5.705,50],[5.730,25],[5.760,12],[5.790,3],
  [5.793,-70],[5.799,-370],[5.803,-20],[5.827,122],[5.840,60],[5.860,28],[5.890,12],[5.930,0],[5.950,-30],
  [5.970,-60],[5.979,-353],[5.983,-60],[5.988,-200],[5.994,84],[6.000,-45]
];

// small dips between the bursts in the inset [time s, tip µV]
const insetDips = [
  [3.07,-35],[3.16,-30],[3.196,-32],[3.28,-40],[3.303,-66],[3.37,-45],[3.47,-35],[3.58,-50],[3.67,-40],[3.71,-70],
  [3.78,-45],[3.87,-40],[3.97,-35],[4.021,-174],[4.09,-50],[4.19,-45],[4.243,-158],[4.30,-60],[4.40,-45],[4.50,-40],
  [4.54,-62],[4.62,-50],[4.72,-45],[4.751,-116],[4.84,-55],[4.96,-60],[5.07,-45],[5.136,-116],[5.20,-50],[5.227,-57],
  [5.33,-55],[5.45,-60],[5.478,-45],[5.507,-120],[5.58,-50],[5.65,-137],[5.70,-87],[5.74,-55],[5.772,-128],[5.81,-170],
  [5.86,-65],[5.915,-87],[5.931,-124],[5.94,-128],[5.96,-70]
];

// annotations in data units
const zoomBox = [[3, 145], [6, 145], [6, -695], [3, -695], [3, 145]];
const scaleBar = [[38.97, -262], [38.97, -362]];
const arrowLine = [[6, -422], [10.46, -452]];

const red = '#ff0000';
const spikeRed = '#b8403c';
const fringeRed = '#e02a2a';

var chartDom = document.getElementById('chart');
var myChart = echarts.init(chartDom);

// vertical stroke from a base level to the spike tip
function spikeRenderer(color, width, base) {
  return function (params, api) {
    var a = api.coord([api.value(0), base]);
    var b = api.coord([api.value(0), api.value(1)]);
    return {
      type: 'line',
      shape: { x1: a[0], y1: a[1], x2: b[0], y2: b[1] },
      style: { stroke: color, lineWidth: width }
    };
  };
}

// the band is one filled polygon: top edge left to right, bottom edge back
function bandRenderer(params, api) {
  if (params.dataIndex !== 0) return null;
  var pts = [];
  for (var i = 0; i < band.length; i++) pts.push(api.coord([band[i][0], band[i][1]]));
  for (var j = band.length - 1; j >= 0; j--) pts.push(api.coord([band[j][0], band[j][2]]));
  return { type: 'polygon', shape: { points: pts }, style: { fill: red, stroke: red, lineWidth: 0.5 } };
}

var option = {
  animation: false,
  backgroundColor: '#fff',
  grid: [
    { left: 18, top: 6, width: 1630, height: 1161, show: true, borderColor: '#222', borderWidth: 1, backgroundColor: 'transparent' },
    { left: 307, top: 762, width: 1052, height: 336 }
  ],
  xAxis: [
    {
      gridIndex: 0, type: 'value', min: 0, max: 51, interval: 5, position: 'bottom',
      axisLine: { show: true, onZero: false, lineStyle: { color: '#222', width: 1 } },
      axisTick: { inside: true, length: 15, lineStyle: { color: '#222' } },
      axisLabel: { fontSize: 27, color: '#000', fontFamily: 'Liberation Sans', margin: 11, showMaxLabel: false },
      splitLine: { show: false },
      name: 'Time (s)', nameLocation: 'middle', nameGap: 44,
      nameTextStyle: { fontSize: 29, color: '#000', fontFamily: 'Liberation Sans' }
    },
    {
      gridIndex: 0, type: 'value', min: 0, max: 51, interval: 5, position: 'top',
      axisLine: { show: false, onZero: false },
      axisTick: { inside: true, length: 14, lineStyle: { color: '#222' } },
      axisLabel: { show: false },
      splitLine: { show: false }
    },
    {
      gridIndex: 1, type: 'value', min: 3, max: 6, interval: 0.5, position: 'bottom', z: 12,
      axisLine: { show: true, onZero: false, lineStyle: { color: '#111', width: 1 } },
      axisTick: { inside: true, length: 10, lineStyle: { color: '#111' } },
      axisLabel: { fontSize: 22, color: '#000', fontFamily: 'DejaVu Sans', margin: 9 },
      splitLine: { show: false }
    },
    {
      gridIndex: 1, type: 'value', min: 3, max: 6, interval: 0.5, position: 'top', z: 12,
      axisLine: { show: false, onZero: false },
      axisTick: { inside: true, length: 10, lineStyle: { color: '#111' } },
      axisLabel: { show: false },
      splitLine: { show: false }
    }
  ],
  yAxis: [
    { gridIndex: 0, type: 'value', min: -817, max: 193, show: false },
    { gridIndex: 1, type: 'value', min: -690, max: 150, show: false }
  ],
  graphic: [
    {
      type: 'rect', z: 10,
      shape: { x: 307, y: 762, width: 1052, height: 336 },
      style: { fill: '#fff', stroke: '#111', lineWidth: 1.2 }
    },
    {
      type: 'text', z: 10, x: 267, y: 88,
      style: { text: 'Field Recording in CA3', fontSize: 53, fontFamily: 'Liberation Serif', fill: '#000', verticalAlign: 'middle', align: 'left' }
    },
    {
      type: 'text', z: 10, x: 1278, y: 596,
      style: { text: '100 μV', fontSize: 43, fontFamily: 'Liberation Serif', fill: '#000', verticalAlign: 'middle', align: 'left' }
    }
  ],
  series: [
    {
      name: 'down', type: 'custom', xAxisIndex: 0, yAxisIndex: 0, z: 2, silent: true,
      renderItem: spikeRenderer(spikeRed, 1.5, 0), encode: { x: 0, y: 1 }, data: downSpikes
    },
    {
      name: 'up', type: 'custom', xAxisIndex: 0, yAxisIndex: 0, z: 2, silent: true,
      renderItem: spikeRenderer(spikeRed, 1.5, 0), encode: { x: 0, y: 1 }, data: upSpikes
    },
    {
      name: 'fringeDown', type: 'custom', xAxisIndex: 0, yAxisIndex: 0, z: 2, silent: true,
      renderItem: spikeRenderer(fringeRed, 1.6, 0), encode: { x: 0, y: 1 }, data: fringeDown
    },
    {
      name: 'fringeUp', type: 'custom', xAxisIndex: 0, yAxisIndex: 0, z: 2, silent: true,
      renderItem: spikeRenderer(fringeRed, 1.6, 0), encode: { x: 0, y: 1 }, data: fringeUp
    },
    {
      name: 'band', type: 'custom', xAxisIndex: 0, yAxisIndex: 0, z: 3, silent: true,
      renderItem: bandRenderer, encode: { x: 0, y: [1, 2] }, data: band
    },
    {
      name: 'zoomBox', type: 'line', xAxisIndex: 0, yAxisIndex: 0, z: 4, silent: true, symbol: 'none',
      lineStyle: { color: '#3c3ca0', width: 1.5, type: [12, 6] },
      data: zoomBox
    },
    {
      name: 'scaleBar', type: 'line', xAxisIndex: 0, yAxisIndex: 0, z: 4, silent: true, symbol: 'none',
      lineStyle: { color: '#1414aa', width: 3 },
      data: scaleBar
    },
    {
      name: 'arrow', type: 'lines', coordinateSystem: 'cartesian2d', xAxisIndex: 0, yAxisIndex: 0, z: 11, silent: true,
      symbol: ['none', 'triangle'], symbolSize: [39, 37],
      lineStyle: { color: '#000', width: 1.2, opacity: 1 },
      itemStyle: { color: '#000' },
      data: [{ coords: arrowLine }]
    },
    {
      name: 'insetDips', type: 'custom', xAxisIndex: 2, yAxisIndex: 1, z: 12, silent: true,
      renderItem: spikeRenderer('#d42020', 1.3, 15), encode: { x: 0, y: 1 }, data: insetDips
    },
    {
      name: 'inset', type: 'line', xAxisIndex: 2, yAxisIndex: 1, z: 12, silent: true, symbol: 'none',
      lineStyle: { color: '#f00', width: 3 },
      data: insetTrace
    }
  ]
};

option && myChart.setOption(option);
</script>
</body>
</html>
